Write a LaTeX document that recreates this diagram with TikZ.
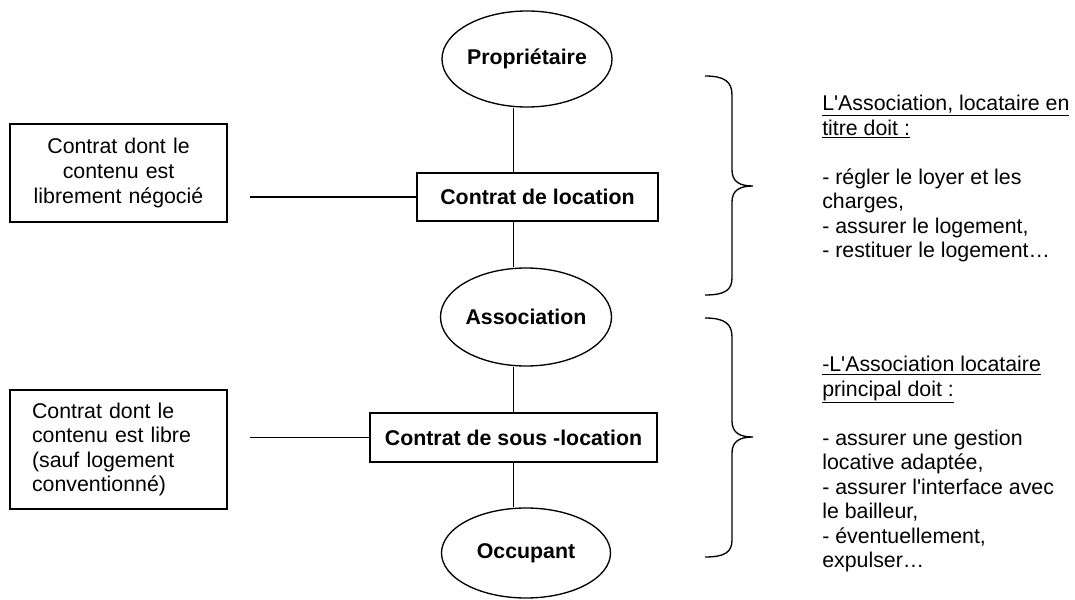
\documentclass[tikz,border=0pt]{standalone}
\usepackage{fontspec}
\setmainfont{Liberation Sans}
\usetikzlibrary{shapes.geometric, positioning}
\tikzset{
  acteur/.style={draw, ellipse, line width=1pt, inner sep=0pt,
    font=\fontsize{16}{18.4}\selectfont\bfseries},
  contrat/.style={draw, rectangle, line width=1pt, inner sep=0pt,
    font=\fontsize{16}{18.4}\selectfont\bfseries},
  cadre/.style={draw, rectangle, line width=1pt, inner xsep=16.5pt, inner ysep=0pt,
    text width=129.75pt, font=\fontsize{16}{18.4}\selectfont},
  lien/.style={line width=1pt},
  accolade/.style={line width=1pt},
  note/.style={anchor=north west, inner sep=0pt, align=left,
    font=\fontsize{16}{18.4}\selectfont}
}

\begin{document}
\begin{tikzpicture}[x=0.75pt, y=-0.75pt]
        \useasboundingbox (0, 0) rectangle (1075, 600);

        % colonne centrale
        \node[acteur, minimum width=127.5pt, minimum height=72pt] (prop) at (527, 59) {Propriétaire};
        \node[contrat, minimum width=180.75pt, minimum height=36pt] (loc) at (537.5, 197) {Contrat de location};
        \node[acteur, minimum width=126pt, minimum height=73.5pt] (assoc) at (526, 317) {Association};
        \node[contrat, minimum width=215.25pt, minimum height=36.75pt] (sousloc) at (513.5, 437.5) {Contrat de sous -location};
        \node[acteur, minimum width=126.75pt, minimum height=67.5pt] (occup) at (526, 553) {Occupant};

        \draw[lien] (prop.south -| sousloc.north) -- (loc.north -| sousloc.north);
        \draw[lien] (loc.south -| sousloc.north) -- (assoc.north -| sousloc.north);
        \draw[lien] (assoc.south -| sousloc.north) -- (sousloc.north);
        \draw[lien] (sousloc.south) -- (occup.north -| sousloc.south);

        % cadres de gauche
        \node[cadre, align=center, minimum height=73.5pt] (libre1) at (118.5, 173) {Contrat dont le\\contenu est\\librement négocié};
        \node[cadre, align=left, minimum height=89.25pt] (libre2) at (118.5, 449.5) {Contrat dont le\\contenu est libre\\(sauf logement\\conventionné)};

        \coordinate (fil1) at (250, 197);
        \coordinate (fil2) at (250, 437.5);
        \draw[lien] (fil1) -- (loc.west);
        \draw[lien] (fil2) -- (sousloc.west);

        % accolades
        \draw[accolade] (705, 76) .. controls (725, 76) and (732, 82) .. (732, 95) -- (732, 170)
            .. controls (732, 182) and (740, 186) .. (753, 186)
            .. controls (740, 186) and (732, 190) .. (732, 202) -- (732, 278)
            .. controls (732, 290) and (725, 295) .. (705, 295);
        \draw[accolade] (705, 318) .. controls (725, 318) and (732, 324) .. (732, 337) -- (732, 421)
            .. controls (732, 433) and (740, 437) .. (753, 437)
            .. controls (740, 437) and (732, 441) .. (732, 453) -- (732, 540)
            .. controls (732, 552) and (725, 557) .. (705, 557);

        % obligations
        \node[note] (devoir1) at (822, 95) {\underline{L\textquotesingle Association, locataire en}\\\underline{titre doit :}\\[18.4pt]- régler le loyer et les\\charges,\\- assurer le logement,\\- restituer le logement…};
        \node[note] (devoir2) at (822, 356) {\underline{-L\textquotesingle Association locataire}\\\underline{principal doit :}\\[18.4pt]- assurer une gestion\\locative adaptée,\\- assurer l\textquotesingle interface avec\\le bailleur,\\- éventuellement,\\expulser…};
\end{tikzpicture}
\end{document}
